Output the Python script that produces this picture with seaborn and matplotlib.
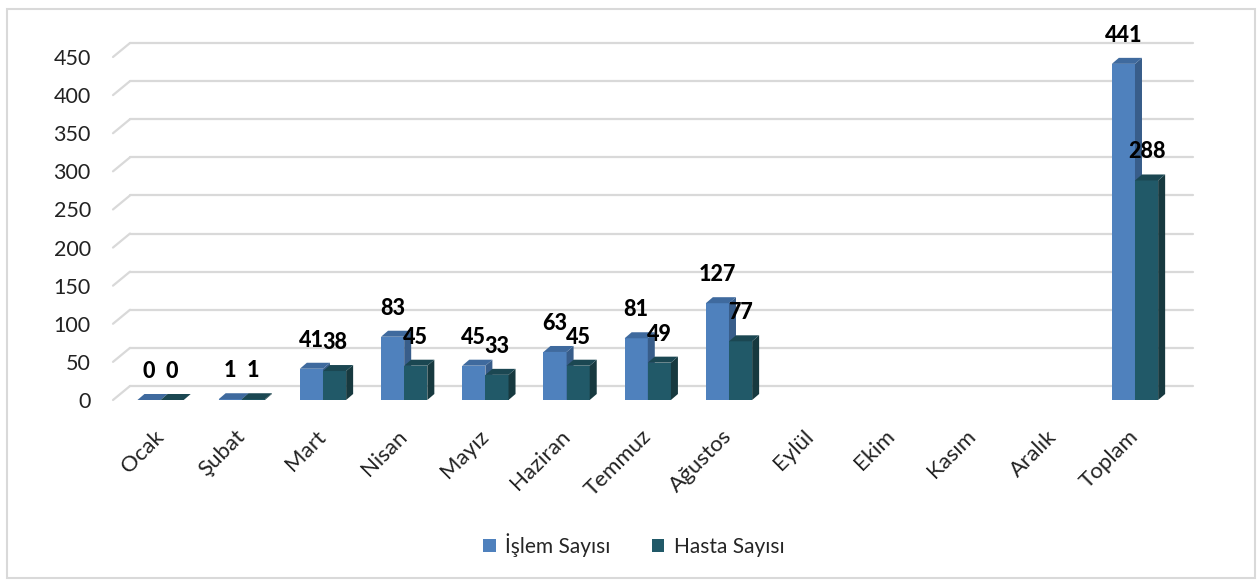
import matplotlib.pyplot as plt
import numpy as np
import pandas as pd
import seaborn as sns
from matplotlib.patches import Polygon, Rectangle

# chart data
aylar = ["Ocak", "Şubat", "Mart", "Nisan", "Mayız", "Haziran", "Temmuz",
         "Ağustos", "Eylül", "Ekim", "Kasım", "Aralık", "Toplam"]
islem_sayisi = [0, 1, 41, 83, 45, 63, 81, 127, np.nan, np.nan, np.nan, np.nan, 441]
hasta_sayisi = [0, 1, 38, 45, 33, 45, 49, 77, np.nan, np.nan, np.nan, np.nan, 288]
seriler = ["İşlem Sayısı", "Hasta Sayısı"]
y_ticks = list(range(0, 451, 50))

# colours: front, side, top
renkler = ["#4F81BD", "#215968"]
yan_renk = ["#385D8A", "#17393F"]
ust_renk = ["#3F6A9E", "#1B4752"]

sns.set_theme(style="white")
plt.rcParams['font.family'] = ['Lato', 'DejaVu Sans']

df = pd.DataFrame({
    "Ay": aylar * 2,
    "Sayı": islem_sayisi + hasta_sayisi,
    "Seri": [seriler[0]] * len(aylar) + [seriler[1]] * len(aylar),
})

W, H = 1260, 580
fig = plt.figure(figsize=(W / 100, H / 100), dpi=100)
ax = fig.add_axes([113 / W, 180 / H, 1063 / W, 343 / H])

sns.barplot(data=df, x="Ay", y="Sayı", hue="Seri", order=aylar, hue_order=seriler,
            palette=renkler, width=0.57, gap=0, saturation=1, legend=False, ax=ax)

xlim = (-0.586, 12.505)
ylim = (0, 450)
ax.set_xlim(*xlim)
ax.set_ylim(*ylim)

# pixel -> data conversions for the fake 3D depth
px_x = 1063 / (xlim[1] - xlim[0])
px_y = 343 / (ylim[1] - ylim[0])
bar_dx, bar_dy = 7 / px_x, 6 / px_y
wall_dx, wall_dy = 17 / 1063, 14 / px_y

# back wall gridlines with slanted floor edge
for v in y_ticks:
    ax.plot([0, wall_dx], [v, v + wall_dy], color="#d9d9d9", lw=1.6,
            transform=ax.get_yaxis_transform(), clip_on=False, zorder=0.5)
    ax.plot([wall_dx, 1 + wall_dx], [v + wall_dy, v + wall_dy], color="#d9d9d9", lw=1.6,
            transform=ax.get_yaxis_transform(), clip_on=False, zorder=0.5)

# side and top faces of bars
for i, cont in enumerate(ax.containers):
    z = 2 + i
    for bar in cont:
        h = bar.get_height()
        if np.isnan(h):
            continue
        x0 = bar.get_x()
        x1 = x0 + bar.get_width()
        bar.set_zorder(z)
        bar.set_edgecolor("none")
        side = Polygon([(x1, 0), (x1 + bar_dx, bar_dy), (x1 + bar_dx, h + bar_dy), (x1, h)],
                       closed=True, facecolor=yan_renk[i], edgecolor="none", zorder=z + 0.1,
                       clip_on=False)
        top = Polygon([(x0, h), (x1, h), (x1 + bar_dx, h + bar_dy), (x0 + bar_dx, h + bar_dy)],
                      closed=True, facecolor=ust_renk[i], edgecolor="none", zorder=z + 0.2,
                      clip_on=False)
        ax.add_patch(side)
        ax.add_patch(top)
    etiketler = ["" if np.isnan(v) else f"{int(v)}" for v in cont.datavalues]
    ax.bar_label(cont, labels=etiketler, padding=13, fontsize=15.5, fontweight="black",
                 color="black", zorder=10)

sns.despine(ax=ax, left=True, bottom=True)
ax.set_xlabel("")
ax.set_ylabel("")
ax.set_yticks(y_ticks)
ax.set_yticklabels([str(v) for v in y_ticks], fontsize=15.5, color="#222222")
ax.set_xticks(range(len(aylar)))
ax.set_xticklabels(aylar, rotation=45, ha="right", va="center", rotation_mode="anchor",
                   fontsize=16, color="#222222")
ax.tick_params(axis="y", length=0, pad=16)
ax.tick_params(axis="x", length=0, pad=24)
ax.patch.set_alpha(0)

# legend
handles = [Rectangle((0, 0), 1, 1, facecolor=c, edgecolor="none") for c in renkler]
fig.legend(handles, seriler, loc="center", bbox_to_anchor=(0.503, 1 - 545 / H), ncol=2,
           frameon=False, fontsize=15, handlelength=0.6, handleheight=0.6,
           handletextpad=0.45, columnspacing=2.0)

# outer chart border
fig.patches.append(Rectangle((7 / W, 2 / H), (1255 - 7) / W, (578 - 9) / H, fill=False,
                             edgecolor="#d9d9d9", lw=1.5, transform=fig.transFigure))

fig.savefig("out.png", dpi=100)
